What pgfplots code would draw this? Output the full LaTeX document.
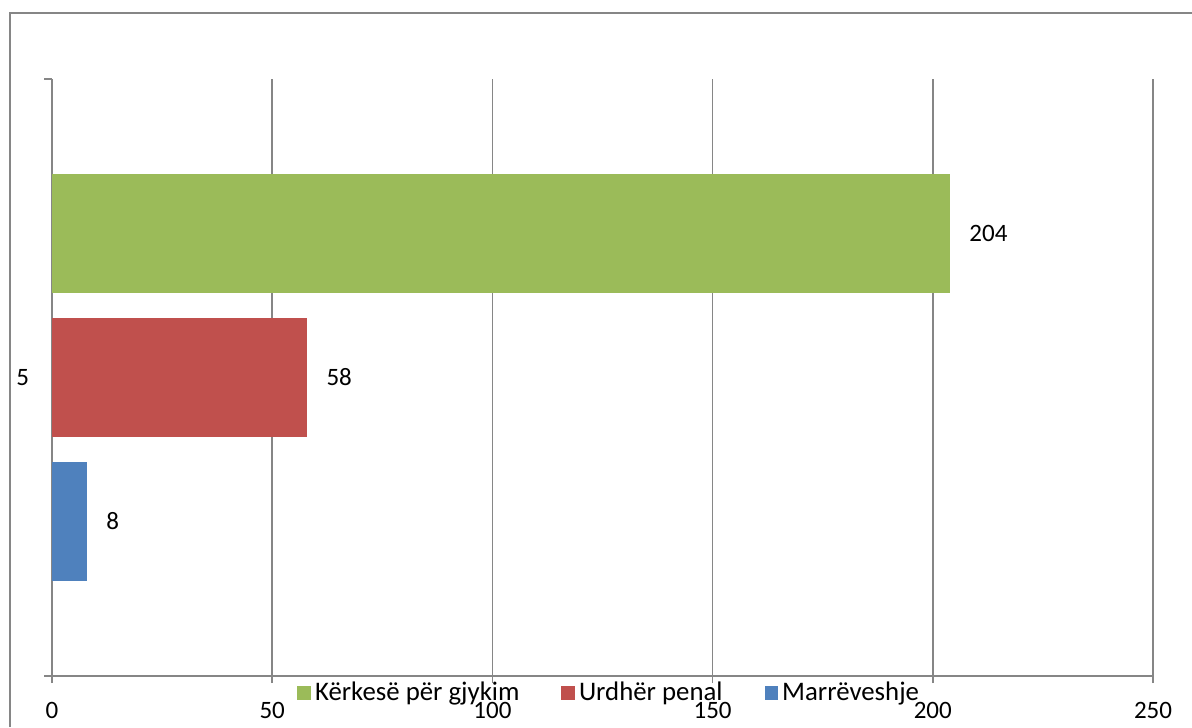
\documentclass[border=0pt]{standalone}
\usepackage{pgfplots}
\pgfplotsset{compat=1.18}
\usepackage{fontspec}
\setmainfont{Carlito}

\definecolor{cgreen}{HTML}{9BBB59}
\definecolor{cred}{HTML}{C0504D}
\definecolor{cblue}{HTML}{4F81BD}
\definecolor{cgrid}{HTML}{868686}

\begin{document}
\begin{tikzpicture}[font=\fontsize{12.5}{14}\selectfont]
% picture area: 1px = 0.5pt, origin at top left
\path[use as bounding box] (0,0) rectangle (596pt,-363.5pt);
\draw[cgrid, line width=0.8pt] (5pt,-363.5pt) -- (5pt,-6.5pt) -- (596pt,-6.5pt);

\begin{axis}[%
at={(26pt,-338pt)},
anchor=south west,
width=550.5pt,
height=298.5pt,
scale only axis,
/pgf/number format/assume math mode=true,
xmin=0, xmax=250,
xtick={0,50,100,150,200,250},
ymin=-0.073, ymax=4.073,
ytick={2},
yticklabels={5},
axis x line*=bottom,
axis y line*=left,
axis line style={cgrid, line width=0.8pt},
tick align=outside,
x tick style={cgrid, line width=0.8pt},
y tick style={draw=none},
xtick pos=bottom,
major tick length=3.5pt,
xmajorgrids,
grid style={cgrid, line width=0.8pt},
xticklabel style={yshift=-6pt},
yticklabel style={xshift=-4.5pt},
xbar,
bar width=59.5pt,
bar shift=0pt,
nodes near coords,
nodes near coords style={anchor=west, xshift=6pt},
legend columns=3,
legend style={at={(0.507,-0.0285)}, anchor=center, draw=none, fill=none,
  font=\fontsize{13.4}{15}\selectfont,
  /tikz/every even column/.append style={column sep=19pt}},
legend image code/.code={\fill[#1] (0pt,-3.4pt) rectangle (6.8pt,3.4pt);},
clip=false,
]
\addplot[fill=cgreen, draw=none] coordinates {(204,3)};
\addlegendentry{Kërkesë për gjykim}
\addplot[fill=cred, draw=none] coordinates {(58,2)};
\addlegendentry{Urdhër penal}
\addplot[fill=cblue, draw=none] coordinates {(8,1)};
\addlegendentry{Marrëveshje}
% the two category ticks at the ends of the y axis
\draw[cgrid, line width=0.8pt] (rel axis cs:0,0) -- ++(-4pt,0pt);
\draw[cgrid, line width=0.8pt] (rel axis cs:0,1) -- ++(-4pt,0pt);
\end{axis}
\end{tikzpicture}
\end{document}
